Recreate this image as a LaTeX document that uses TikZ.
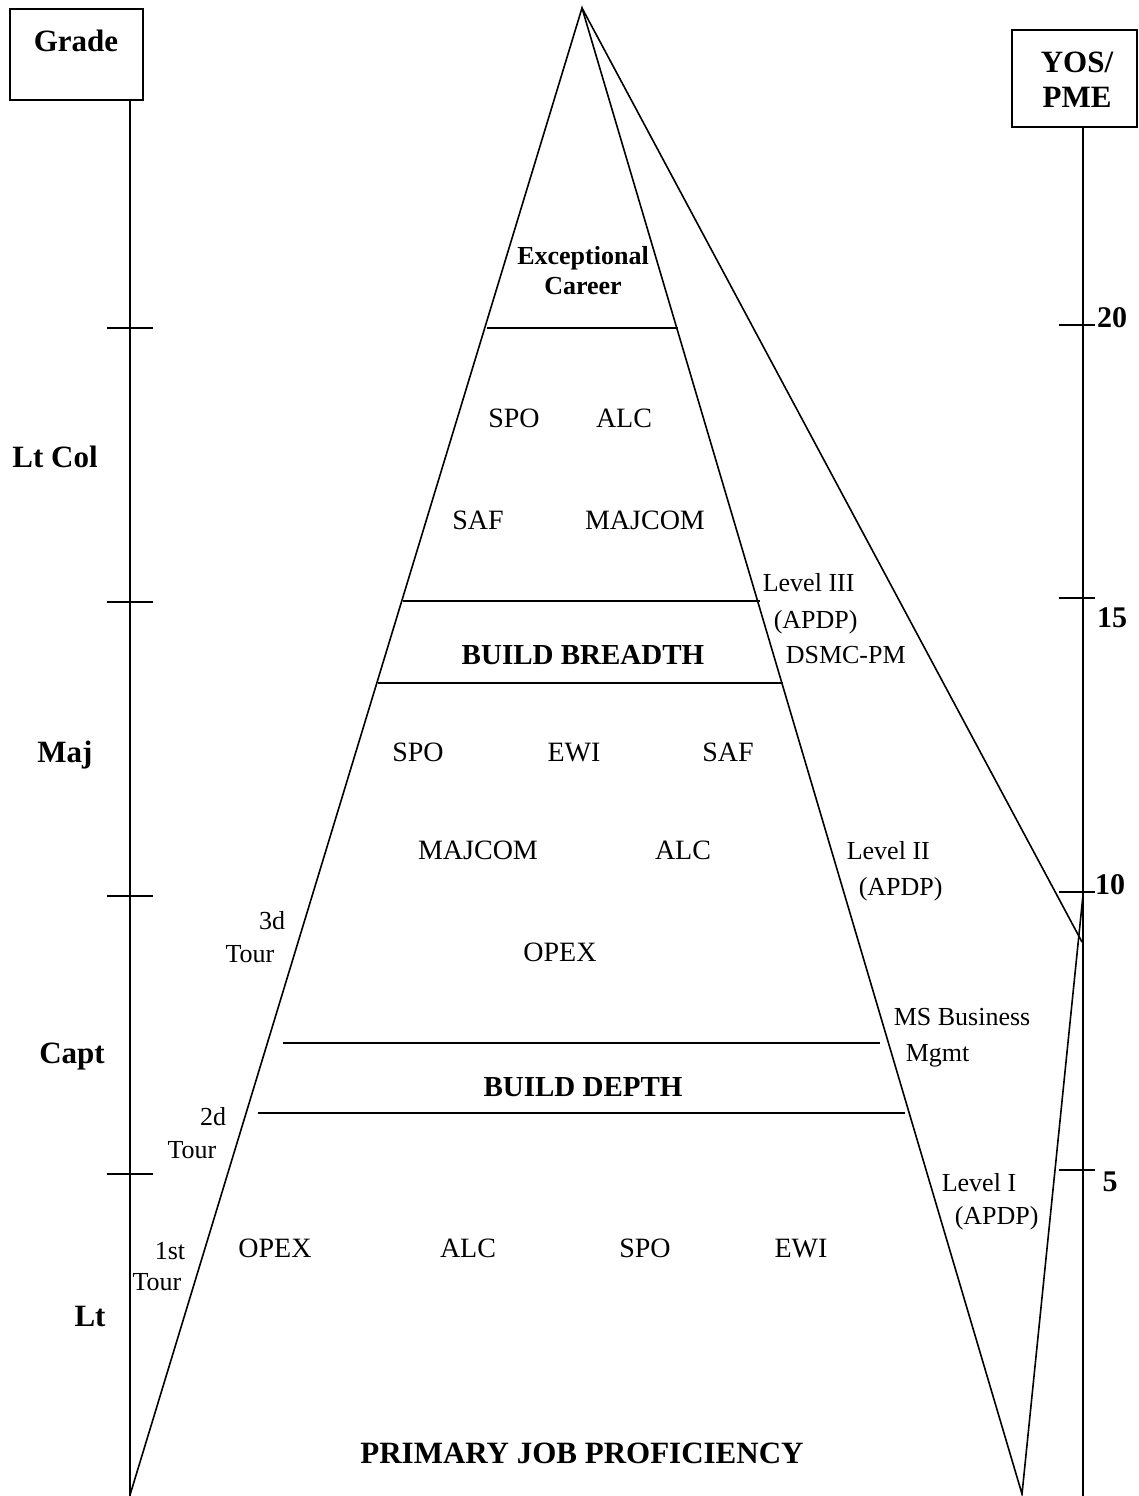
\documentclass[tikz,border=0pt]{standalone}
\usepackage{fontspec}
\setmainfont{Liberation Serif}
\begin{document}
\begin{tikzpicture}[x=1pt,y=-1pt,line width=1.6pt,
  every node/.style={inner sep=0pt},
  lbl/.style={font=\fontsize{28}{34}\selectfont,anchor=base},
  sm/.style={font=\fontsize{26}{32}\selectfont,anchor=base},
  smw/.style={font=\fontsize{26}{32}\selectfont,anchor=base west},
  bld/.style={font=\fontsize{29}{34}\selectfont\bfseries,anchor=base},
  bsm/.style={font=\fontsize{26}{32}\selectfont\bfseries,anchor=base},
  ax/.style={font=\fontsize{31}{36}\selectfont\bfseries,anchor=base},
  num/.style={font=\fontsize{30}{36}\selectfont\bfseries,anchor=base},
  boxst/.style={draw,line width=1.6pt,minimum width=#1,minimum height=91pt}]
\useasboundingbox (0,0) rectangle (1138,1496);

% header boxes
\node[boxst=133pt] (gradebox) at (76.5,54.5) {};
\node[ax] (gradetxt) at (76,52) {Grade};
\node[boxst=125pt,minimum height=97pt] (yosbox) at (1074.5,78.5) {};
\node[ax] (yos1) at (1077,72) {YOS/};
\node[ax] (yos2) at (1077,107) {PME};

% axes
\coordinate (gtop) at (130,100);
\coordinate (gbot) at (130,1496);
\coordinate (ytop) at (1083,127);
\coordinate (ybot) at (1083,1496);
\draw (gtop) -- (gbot);
\draw (ytop) -- (ybot);
\foreach \yy in {328,602,896,1174} \draw (107,\yy) -- (153,\yy);
\foreach \yy in {325,598,892,1170} \draw (1059,\yy) -- (1095,\yy);

% grade labels
\node[ax] (ltcol) at (55,467) {Lt Col};
\node[ax] (maj) at (65,762) {Maj};
\node[ax] (capt) at (72,1063) {Capt};
\node[ax] (lt) at (90,1326) {Lt};

% yos labels
\node[num] (y20) at (1112,327) {20};
\node[num] (y15) at (1112,627) {15};
\node[num] (y10) at (1110,894) {10};
\node[num] (y5) at (1110,1191) {5};

% pyramid
\coordinate (apex) at (582,8);
\coordinate (bl) at (130,1495);
\coordinate (br) at (1022,1494);
\coordinate (far) at (1082,942);
\coordinate (vtop) at (1083,895);
\draw (bl) -- (apex) -- (br) -- (vtop);
\draw (apex) -- (far);

% bands
\draw (487,328) -- (678,328);
\draw (403,601) -- (760,601);
\draw (378,683) -- (783,683);
\draw (283,1043) -- (880,1043);
\draw (258,1113) -- (905,1113);

% texts inside
\node[bsm] (exc1) at (583,264) {Exceptional};
\node[bsm] (exc2) at (583,294) {Career};
\node[lbl] (spo1) at (514,427) {SPO};
\node[lbl] (alc1) at (624,427) {ALC};
\node[lbl] (saf1) at (478,529) {SAF};
\node[lbl] (maj1) at (645,529) {MAJCOM};
\node[bld] (breadth) at (583,664) {BUILD BREADTH};
\node[lbl] (spo2) at (418,761) {SPO};
\node[lbl] (ewi2) at (574,761) {EWI};
\node[lbl] (saf2) at (728,761) {SAF};
\node[lbl] (maj2) at (478,859) {MAJCOM};
\node[lbl] (alc2) at (683,859) {ALC};
\node[lbl] (opex2) at (560,961) {OPEX};
\node[bld] (depth) at (583,1096) {BUILD DEPTH};
\node[lbl] (opex3) at (275,1257) {OPEX};
\node[lbl] (alc3) at (468,1257) {ALC};
\node[lbl] (spo3) at (645,1257) {SPO};
\node[lbl] (ewi3) at (801,1257) {EWI};
\node[bld,font=\fontsize{31}{36}\selectfont\bfseries] (pjp) at (582,1463) {PRIMARY JOB PROFICIENCY};

% right side labels
\node[smw] (l3a) at (762,591) {Level III};
\node[smw] (l3b) at (773,628) {(APDP)};
\node[smw] (l3c) at (785,663) {DSMC-PM};
\node[smw] (l2a) at (846,859) {Level II};
\node[smw] (l2b) at (858,895) {(APDP)};
\node[smw] (msa) at (893,1025) {MS Business};
\node[smw] (msb) at (905,1061) {Mgmt};
\node[smw] (l1a) at (941,1191) {Level I};
\node[smw] (l1b) at (954,1224) {(APDP)};

% left side tour labels
\node[sm] (t3a) at (272,929) {3d};
\node[sm] (t3b) at (250,962) {Tour};
\node[sm] (t2a) at (213,1125) {2d};
\node[sm] (t2b) at (192,1158) {Tour};
\node[sm] (t1a) at (170,1259) {1st};
\node[sm] (t1b) at (157,1290) {Tour};
\end{tikzpicture}
\end{document}
